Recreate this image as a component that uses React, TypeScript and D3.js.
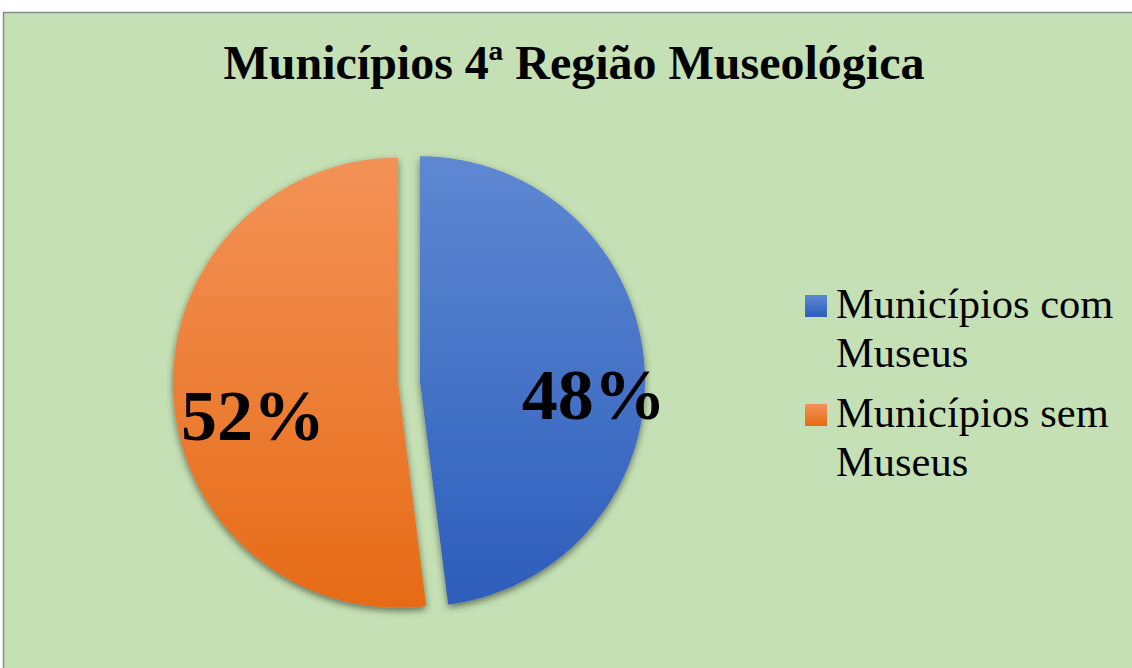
import { arc, pie } from "d3";

const WIDTH = 1132;
const HEIGHT = 668;

const title = "Municípios 4ª Região Museológica";
const categories = ["Municípios com Museus", "Municípios sem Museus"];
const legendLines = [
  ["Municípios com", "Museus"],
  ["Municípios sem", "Museus"],
];
const values = [48, 52];
const valueLabels = ["48%", "52%"];

const gradients = [
  { id: "sliceBlue", top: "#5e88d2", bottom: "#2d5dbb" },
  { id: "sliceOrange", top: "#f39257", bottom: "#e66b16" },
];

const CX = 409;
const CY = 382;
const RADIUS = 225;
const EXPLODE = 11;
const SERIF = "'Liberation Serif', 'Times New Roman', serif";

export default function App() {
  const slices = pie<number>().sort(null)(values);
  const sliceArc = arc<any>().innerRadius(0).outerRadius(RADIUS);
  const labelArc = arc<any>()
    .innerRadius(RADIUS * 0.71)
    .outerRadius(RADIUS * 0.71);

  return (
    <svg
      width={WIDTH}
      height={HEIGHT}
      viewBox={`0 0 ${WIDTH} ${HEIGHT}`}
      style={{ position: "absolute", left: 0, top: 0, display: "block" }}
    >
      <defs>
        {gradients.map((g) => (
          <linearGradient key={g.id} id={g.id} x1="0" y1="0" x2="0" y2="1">
            <stop offset="0%" stopColor={g.top} />
            <stop offset="100%" stopColor={g.bottom} />
          </linearGradient>
        ))}
        <filter id="sliceShadow" x="-20%" y="-20%" width="140%" height="140%">
          <feDropShadow
            dx="0"
            dy="3"
            stdDeviation="3.5"
            floodColor="#000"
            floodOpacity="0.5"
          />
        </filter>
      </defs>
      <rect x="0" y="0" width={WIDTH} height={HEIGHT} fill="#ffffff" />
      <rect
        x="3.5"
        y="12.5"
        width={WIDTH + 20}
        height={HEIGHT + 20}
        fill="#c5e0b4"
        stroke="#8a8a8a"
        strokeWidth="1.5"
      />
      <text
        x="574"
        y="79"
        textAnchor="middle"
        fontFamily={SERIF}
        fontWeight="bold"
        fontSize="48"
        fill="#000"
      >
        {title}
      </text>

      {slices.map((s, i) => {
        const mid = (s.startAngle + s.endAngle) / 2;
        const dx = Math.sin(mid) * EXPLODE;
        const dy = -Math.cos(mid) * EXPLODE;
        return (
          <g key={categories[i]} transform={`translate(${CX + dx},${CY + dy})`}>
            <path
              d={sliceArc(s) ?? ""}
              fill={`url(#${gradients[i].id})`}
              filter="url(#sliceShadow)"
            />
          </g>
        );
      })}

      {slices.map((s, i) => {
        const mid = (s.startAngle + s.endAngle) / 2;
        const dx = Math.sin(mid) * EXPLODE;
        const dy = -Math.cos(mid) * EXPLODE;
        const [lx, ly] = labelArc.centroid(s);
        return (
          <text
            key={valueLabels[i]}
            x={CX + dx + lx}
            y={CY + dy + ly}
            dx="0.2em"
            dy="0.66em"
            textAnchor="middle"
            fontFamily={SERIF}
            fontWeight="bold"
            fontSize="72"
            fill="#000"
          >
            {valueLabels[i]}
          </text>
        );
      })}

      {legendLines.map((lines, i) => {
        const top = 295 + i * 109;
        return (
          <g key={categories[i]}>
            <rect
              x="805"
              y={top}
              width="22"
              height="22"
              fill={`url(#${gradients[i].id})`}
            />
            {lines.map((line, j) => (
              <text
                key={line + j}
                x="836"
                y={top + 23 + j * 49}
                fontFamily={SERIF}
                fontSize="42.5"
                fill="#000"
              >
                {line}
              </text>
            ))}
          </g>
        );
      })}
    </svg>
  );
}
